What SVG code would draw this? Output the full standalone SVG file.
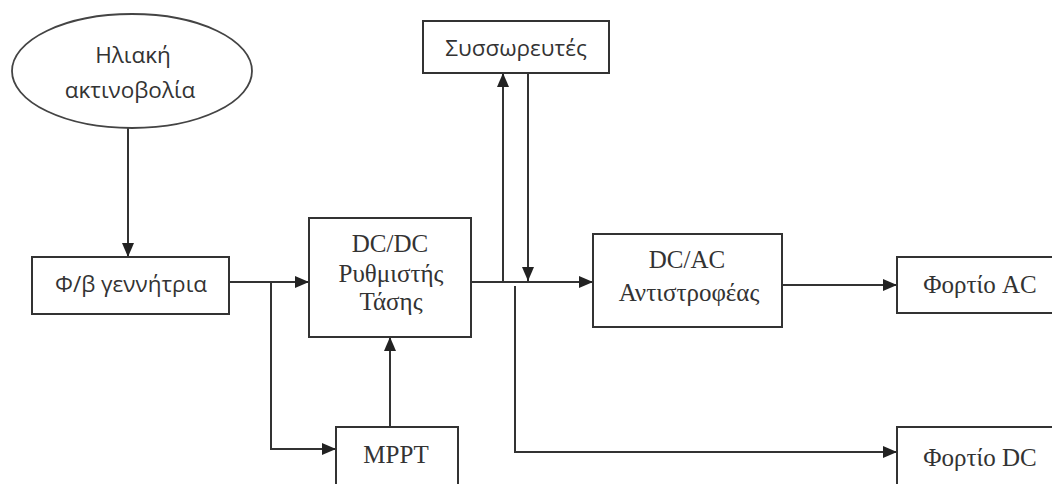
<svg xmlns="http://www.w3.org/2000/svg" width="1052" height="484" viewBox="0 0 1052 484">
<style>
.box{fill:#fff;stroke:#333;stroke-width:2}
.ell{fill:#fff;stroke:#444;stroke-width:1.8}
.sans{font-family:"Open Sans","Noto Sans",sans-serif;font-size:22.5px;fill:#333;text-anchor:middle}
.serif{font-family:"Liberation Serif","DejaVu Serif",serif;font-size:25px;fill:#333;text-anchor:middle}
.con{fill:none;stroke:#333;stroke-width:2}
</style>
<defs>
<marker id="arr" viewBox="0 0 14 12" refX="14" refY="6" markerWidth="14" markerHeight="12" markerUnits="userSpaceOnUse" orient="auto">
<path d="M0,0 L14,6 L0,12 Z" fill="#222"/>
</marker>
</defs>
<rect width="1052" height="484" fill="#fff"/>
<g id="connectors">
<path class="con" d="M128,128 V257" marker-end="url(#arr)"/>
<path class="con" d="M229,282 H309" marker-end="url(#arr)"/>
<path class="con" d="M271,282 V449 H336" marker-end="url(#arr)"/>
<path class="con" d="M390,427 V337" marker-end="url(#arr)"/>
<path class="con" d="M471,282 H593" marker-end="url(#arr)"/>
<path class="con" d="M503,282 V73" marker-end="url(#arr)"/>
<path class="con" d="M528,73 V281" marker-end="url(#arr)"/>
<path class="con" d="M515,286 V452 H897" marker-end="url(#arr)"/>
<path class="con" d="M782,285 H897" marker-end="url(#arr)"/>
</g>
<g id="solar">
<ellipse class="ell" cx="132" cy="71" rx="120" ry="57"/>
<text class="sans" x="133" y="63">Ηλιακή</text>
<text class="sans" x="130" y="98">ακτινοβολία</text>
</g>
<g id="pv">
<rect class="box" x="32" y="257" width="197" height="57"/>
<text class="sans" x="131" y="292">Φ/β γεννήτρια</text>
</g>
<g id="dcdc">
<rect class="box" x="309" y="218" width="162" height="119"/>
<text class="serif" x="390" y="252">DC/DC</text>
<text class="serif" x="391" y="282">Ρυθμιστής</text>
<text class="serif" x="391" y="310">Τάσης</text>
</g>
<g id="mppt">
<rect class="box" x="336" y="427" width="122" height="70"/>
<text class="serif" x="396" y="463">MPPT</text>
</g>
<g id="battery">
<rect class="box" x="423" y="21" width="186" height="52"/>
<text class="sans" x="516" y="56">Συσσωρευτές</text>
</g>
<g id="dcac">
<rect class="box" x="593" y="234" width="189" height="93"/>
<text class="serif" x="687" y="268">DC/AC</text>
<text class="serif" x="689" y="301">Αντιστροφέας</text>
</g>
<g id="loadac">
<rect class="box" x="897" y="257" width="170" height="56"/>
<text class="serif" x="980" y="293">Φορτίο AC</text>
</g>
<g id="loaddc">
<rect class="box" x="897" y="427" width="170" height="70"/>
<text class="serif" x="980" y="466">Φορτίο DC</text>
</g>
</svg>
